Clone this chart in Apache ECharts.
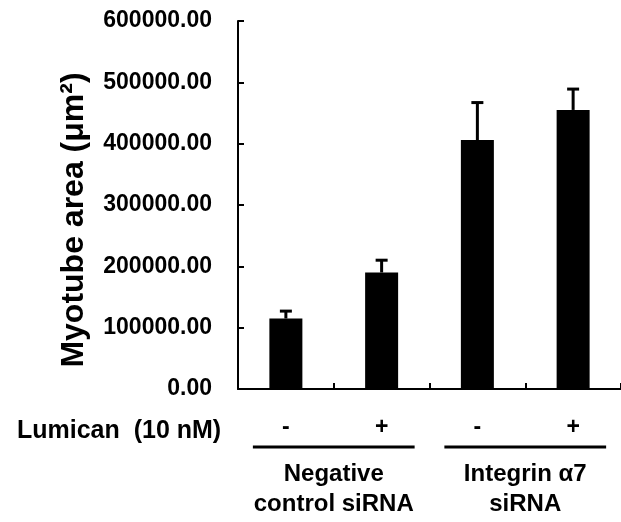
<!DOCTYPE html>
<html>
<head>
<meta charset="utf-8">
<script src="https://cdn.jsdelivr.net/npm/echarts@6/dist/echarts.min.js"></script>
<style>
  html, body { margin: 0; padding: 0; background: #fff; }
  #chart { width: 621px; height: 522px; }
</style>
</head>
<body>
<div id="chart"></div>
<script>
// lumican +/- within each siRNA group
const categories = ['-', '+', '-', '+']
const areaValues = [115000, 190000, 406000, 455000]
const errorValues = [12000, 20000, 61000, 34000]
const groupNames = ['Negative\ncontrol siRNA', 'Integrin α7\nsiRNA']
const groupMembers = [[0, 1], [2, 3]]

const FONT = '"Liberation Sans", Arial, sans-serif'
const dom = document.getElementById('chart')
const myChart = echarts.init(dom, null, { renderer: 'canvas' })

const errData = categories.map((c, i) => [i, areaValues[i], areaValues[i] + errorValues[i]])

const options = {
  animation: false,
  backgroundColor: '#fff',
  grid: { left: 238, right: 0, top: 21, bottom: 133 },
  xAxis: {
    type: 'category',
    data: categories,
    axisLine: { lineStyle: { color: '#000', width: 2 } },
    axisTick: { show: true, interval: 0, inside: true, length: 6, lineStyle: { color: '#000', width: 2 } },
    axisLabel: {
      margin: 27,
      color: '#000',
      fontFamily: FONT,
      fontWeight: 'bold',
      fontSize: 23,
    },
    splitLine: { show: false },
  },
  yAxis: {
    type: 'value',
    min: 0,
    max: 600000,
    interval: 100000,
    name: 'Myotube area (μm²)',
    nameLocation: 'middle',
    nameGap: 148,
    nameTextStyle: {
      color: '#000',
      fontFamily: FONT,
      fontWeight: 'bold',
      fontSize: 32,
      padding: [0, 30, 0, 0],
    },
    axisLine: { show: true, lineStyle: { color: '#000', width: 2 } },
    axisTick: { show: true, inside: true, length: 6, lineStyle: { color: '#000', width: 2 } },
    axisLabel: {
      margin: 26,
      color: '#000',
      fontFamily: FONT,
      fontWeight: 'bold',
      fontSize: 23,
      formatter: (v) => v.toFixed(2),
    },
    splitLine: { show: false },
  },
  series: [
    {
      type: 'bar',
      data: areaValues,
      barWidth: 33,
      itemStyle: { color: '#000' },
    },
    {
      type: 'custom',
      data: errData,
      z: 3,
      renderItem: (params, api) => {
        const base = api.coord([api.value(0), api.value(1)])
        const top = api.coord([api.value(0), api.value(2)])
        const style = { stroke: '#000', lineWidth: 3 }
        return {
          type: 'group',
          children: [
            { type: 'line', shape: { x1: base[0], y1: base[1], x2: top[0], y2: top[1] }, style },
            { type: 'line', shape: { x1: top[0] - 6, y1: top[1], x2: top[0] + 6, y2: top[1] }, style },
          ],
        }
      },
    },
  ],
}

myChart.setOption(options)

// group annotations under the axis, placed from the category positions
const graphics = []
groupMembers.forEach((members, g) => {
  const x0 = myChart.convertToPixel({ xAxisIndex: 0 }, members[0]) - 33
  const x1 = myChart.convertToPixel({ xAxisIndex: 0 }, members[members.length - 1]) + 33
  graphics.push({
    type: 'line',
    shape: { x1: x0, y1: 447, x2: x1, y2: 447 },
    style: { stroke: '#000', lineWidth: 3 },
  })
  graphics.push({
    type: 'text',
    x: (x0 + x1) / 2,
    y: 459,
    style: {
      text: groupNames[g],
      align: 'center',
      verticalAlign: 'top',
      fill: '#000',
      font: `bold 24px ${FONT}`,
      lineHeight: 30,
    },
  })
})
graphics.push({
  type: 'text',
  x: 17,
  y: 431,
  style: {
    text: 'Lumican  (10 nM)',
    align: 'left',
    verticalAlign: 'middle',
    fill: '#000',
    font: `bold 25px ${FONT}`,
  },
})
myChart.setOption({ graphic: graphics })
</script>
</body>
</html>
